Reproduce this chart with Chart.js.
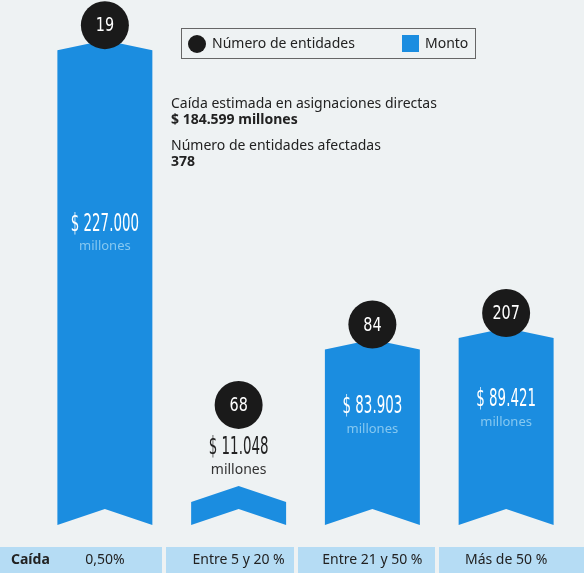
<!DOCTYPE html>
<html lang="es">
<head>
<meta charset="utf-8">
<title>Caída en asignaciones directas</title>
<script src="https://cdn.jsdelivr.net/npm/chart.js@4/dist/chart.umd.min.js"></script>
<style>
  html, body { margin: 0; padding: 0; background: #eef2f3; }
  #wrap { width: 584px; height: 573px; position: relative; }
</style>
</head>
<body>
<div id="wrap"><canvas id="grafico"></canvas></div>
<script>
// Datos del gráfico
const categorias = ['0,50%', 'Entre 5 y 20 %', 'Entre 21 y 50 %', 'Más de 50 %'];
const montos = [227000, 11048, 83903, 89421];      // millones de $
const entidades = [19, 68, 84, 207];
const caidaTotal = 184599;
const entidadesAfectadas = 378;

const AZUL = '#1b8de0';
const NEGRO = '#1a1a1a';
const TEXTO = '#222222';
const FUENTE = '"Noto Sans", "Open Sans", sans-serif';
const NARROW = '"Liberation Sans Narrow", "DejaVu Sans Condensed", sans-serif';
// bordes de las celdas de la fila inferior
const CORTES = [164, 296, 437];

function miles(v) {
  return String(v).replace(/\B(?=(\d{3})+(?!\d))/g, '.');
}

// texto angosto (condensado) escalando en horizontal
function textoAngosto(ctx, txt, x, y, size, color, escala) {
  ctx.save();
  ctx.translate(x, y);
  ctx.scale(escala, 1);
  ctx.font = `${size}px ${NARROW}`;
  ctx.fillStyle = color;
  ctx.textAlign = 'center';
  ctx.textBaseline = 'middle';
  ctx.fillText(txt, 0, 0);
  ctx.restore();
}

function circulo(ctx, x, y, n) {
  ctx.save();
  ctx.beginPath();
  ctx.arc(x, y, 24, 0, Math.PI * 2);
  ctx.fillStyle = NEGRO;
  ctx.fill();
  ctx.restore();
  textoAngosto(ctx, String(n), x, y + 1, 20, '#ffffff', 0.8);
}

// Cintas con punta (chevron) en lugar de barras rectas
const cintas = {
  id: 'cintas',
  afterDatasetsDraw(chart) {
    const ctx = chart.ctx;
    const meta = chart.getDatasetMeta(0);
    meta.data.forEach((bar, i) => {
      const p = bar.getProps(['x', 'y', 'base', 'width'], true);
      const izq = p.x - p.width / 2, der = p.x + p.width / 2;
      const alto = p.base - p.y;
      ctx.save();
      ctx.beginPath();
      ctx.moveTo(izq, p.y);
      ctx.lineTo(p.x, p.y - (alto < 60 ? 16 : 10));
      ctx.lineTo(der, p.y);
      ctx.lineTo(der, p.base);
      ctx.lineTo(p.x, p.base - 16);
      ctx.lineTo(izq, p.base);
      ctx.closePath();
      ctx.fillStyle = AZUL;
      ctx.fill();
      ctx.restore();

      const valor = '$ ' + miles(montos[i]);
      if (alto > 100) {
        const ty = p.y + alto * 0.39 - 11;
        textoAngosto(ctx, valor, p.x, ty, 24, '#ffffff', 0.62);
        ctx.save();
        ctx.font = `13px ${FUENTE}`;
        ctx.fillStyle = '#86c8f0';
        ctx.textAlign = 'center';
        ctx.textBaseline = 'middle';
        ctx.fillText('millones', p.x, ty + 22);
        ctx.restore();
        circulo(ctx, p.x, p.y - 25, entidades[i]);
      } else {
        textoAngosto(ctx, valor, p.x, p.y - 54, 24, TEXTO, 0.62);
        ctx.save();
        ctx.font = `14px ${FUENTE}`;
        ctx.fillStyle = '#333333';
        ctx.textAlign = 'center';
        ctx.textBaseline = 'middle';
        ctx.fillText('millones', p.x, p.y - 32);
        ctx.restore();
        circulo(ctx, p.x, p.y - 97, entidades[i]);
      }
    });
  }
};

// Fila inferior de categorías, leyenda y textos
const adornos = {
  id: 'adornos',
  beforeDraw(chart) {
    const ctx = chart.ctx;
    ctx.save();
    ctx.fillStyle = '#eef2f3';
    ctx.fillRect(0, 0, chart.width, chart.height);
    ctx.restore();
  },
  afterDraw(chart) {
    const ctx = chart.ctx;
    const x = chart.scales.x;
    const yCelda = 547, hCelda = chart.height - yCelda;

    ctx.save();
    categorias.forEach((c, i) => {
      const cx = x.getPixelForValue(i);
      const ini = i === 0 ? 0 : CORTES[i - 1] + 2;
      const fin = i === categorias.length - 1 ? chart.width : CORTES[i] - 2;
      ctx.fillStyle = '#b5dcf4';
      ctx.fillRect(ini, yCelda, fin - ini, hCelda);
      ctx.fillStyle = TEXTO;
      ctx.font = `14px ${FUENTE}`;
      ctx.textAlign = 'center';
      ctx.textBaseline = 'middle';
      ctx.fillText(c, cx, yCelda + hCelda / 2);
    });
    ctx.font = `bold 14px ${FUENTE}`;
    ctx.textAlign = 'left';
    ctx.fillText('Caída', 11, yCelda + hCelda / 2);

    // leyenda
    ctx.strokeStyle = '#666666';
    ctx.lineWidth = 1;
    ctx.strokeRect(181.5, 28.5, 294, 30);
    ctx.beginPath();
    ctx.arc(197, 44, 9, 0, Math.PI * 2);
    ctx.fillStyle = NEGRO;
    ctx.fill();
    ctx.fillStyle = AZUL;
    ctx.fillRect(402, 35, 17, 17);
    ctx.fillStyle = TEXTO;
    ctx.font = `14px ${FUENTE}`;
    ctx.textBaseline = 'middle';
    ctx.fillText('Número de entidades', 212, 44);
    ctx.fillText('Monto', 425, 44);

    // resumen
    ctx.textBaseline = 'alphabetic';
    ctx.font = `14px ${FUENTE}`;
    ctx.fillText('Caída estimada en asignaciones directas', 171, 108);
    ctx.fillText('Número de entidades afectadas', 171, 150);
    ctx.font = `bold 14px ${FUENTE}`;
    ctx.fillText('$ ' + miles(caidaTotal) + ' millones', 171, 124);
    ctx.fillText(String(entidadesAfectadas), 171, 166);
    ctx.restore();
  }
};

new Chart(document.getElementById('grafico'), {
  type: 'bar',
  data: {
    labels: categorias,
    datasets: [{
      label: 'Monto',
      data: montos,
      backgroundColor: 'rgba(0,0,0,0)',
      borderWidth: 0,
      barPercentage: 0.71,
      categoryPercentage: 1
    }]
  },
  options: {
    responsive: true,
    maintainAspectRatio: false,
    animation: false,
    layout: { padding: { left: 38, right: 11, top: 23, bottom: 48 } },
    plugins: {
      legend: { display: false },
      tooltip: { enabled: false }
    },
    scales: {
      x: { display: false },
      y: { display: false, min: 0, max: 240000 }
    }
  },
  plugins: [adornos, cintas]
});
</script>
</body>
</html>
